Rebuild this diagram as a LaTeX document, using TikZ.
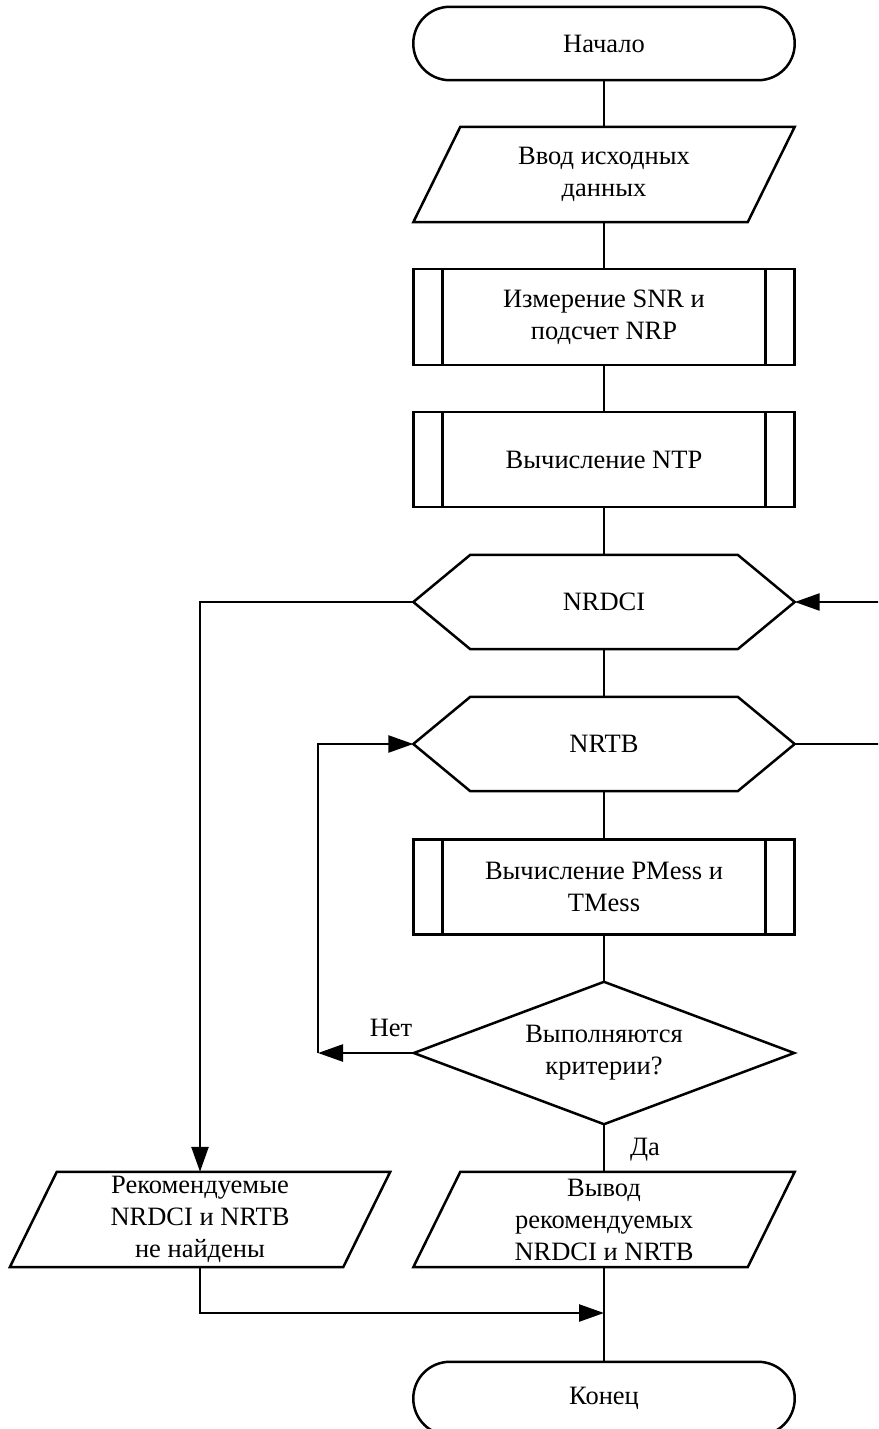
\documentclass[tikz,border=0pt]{standalone}
\usepackage{fontspec}
\setmainfont{Liberation Serif}
\usetikzlibrary{arrows.meta,calc}
\newcommand{\fs}{\fontsize{26.5}{32}\selectfont}
\tikzset{
  base/.style={minimum width=381pt, inner sep=0pt, align=center, font=\fs},
  ln/.style={line width=2.5pt},
  arr/.style={ln, -{Triangle[length=25pt,width=17pt]}},
  lbl/.style={inner sep=0pt, font=\fs},
}
\begin{document}
\begin{tikzpicture}[x=1pt,y=-1pt]
\clip (0,0) rectangle (878,1429);
\fill[white] (0,0) rectangle (878,1429);
% nodes
\node[base, minimum height=73pt] (start) at (604,43.5) {Начало};
\node[base, minimum height=95pt] (in) at (604,174.5) {Ввод исходных\\данных};
\node[base, minimum height=96pt] (m1) at (604,317) {Измерение SNR и\\подсчет NRP};
\node[base, minimum height=95pt] (m2) at (604,459.5) {Вычисление NTP};
\node[base, minimum height=94pt] (h1) at (604,602) {NRDCI};
\node[base, minimum height=94pt] (h2) at (604,744) {NRTB};
\node[base, minimum height=95pt] (m3) at (604,887) {Вычисление PMess и\\TMess};
\node[base, minimum width=380pt, minimum height=142pt] (d) at (604,1053) {Выполняются\\критерии?};
\node[base, minimum height=95pt] (out) at (604,1219.5) {Вывод\\рекомендуемых\\NRDCI и NRTB};
\node[base, minimum width=380pt, minimum height=95pt] (nf) at (200,1219.5) {Рекомендуемые\\NRDCI и NRTB\\не найдены};
\node[base, minimum height=73pt] (end) at (604,1398.5) {Конец};
\node[lbl] (no) at (391,1028) {Нет};
\node[lbl] (yes) at (645,1150) {Да};
\coordinate (nl) at (318,1053);
\coordinate (rc) at (881,602);
\coordinate (mj) at (604,1313);
% outlines
\draw[ln, rounded corners=36.5pt] (start.south west) rectangle (start.north east);
\draw[ln, rounded corners=36.5pt] (end.south west) rectangle (end.north east);
\foreach \n in {in,out,nf}{
  \draw[ln] (\n.south west) -- ($(\n.north west)+(47,0)$) -- (\n.north east) -- ($(\n.south east)+(-47,0)$) -- cycle;
}
\foreach \n in {m1,m2,m3}{
  \draw[ln] (\n.south west) rectangle (\n.north east);
  \draw[ln] ($(\n.south west)+(29,0)$) -- ($(\n.north west)+(29,0)$);
  \draw[ln] ($(\n.south east)+(-29,0)$) -- ($(\n.north east)+(-29,0)$);
}
\foreach \n in {h1,h2}{
  \draw[ln] (\n.west) -- ($(\n.north west)+(57,0)$) -- ($(\n.north east)+(-57,0)$) -- (\n.east) -- ($(\n.south east)+(-57,0)$) -- ($(\n.south west)+(57,0)$) -- cycle;
}
\draw[ln] (d.north) -- (d.east) -- (d.south) -- (d.west) -- cycle;
% connectors
\draw[ln] (start.south) -- (in.north);
\draw[ln] (in.south) -- (m1.north);
\draw[ln] (m1.south) -- (m2.north);
\draw[ln] (m2.south) -- (h1.north);
\draw[ln] (h1.south) -- (h2.north);
\draw[ln] (h2.south) -- (m3.north);
\draw[ln] (m3.south) -- (d.north);
\draw[ln] (d.south) -- (out.north);
\draw[ln] (out.south) -- (end.north);
\draw[arr] (h1.west) -| (nf.north);
\draw[arr] (d.west) -- (nl);
\draw[arr] (nl) |- (h2.west);
\draw[arr] (h2.east) -| (rc) -- (h1.east);
\draw[arr] (nf.south) |- (mj);
\end{tikzpicture}
\end{document}
